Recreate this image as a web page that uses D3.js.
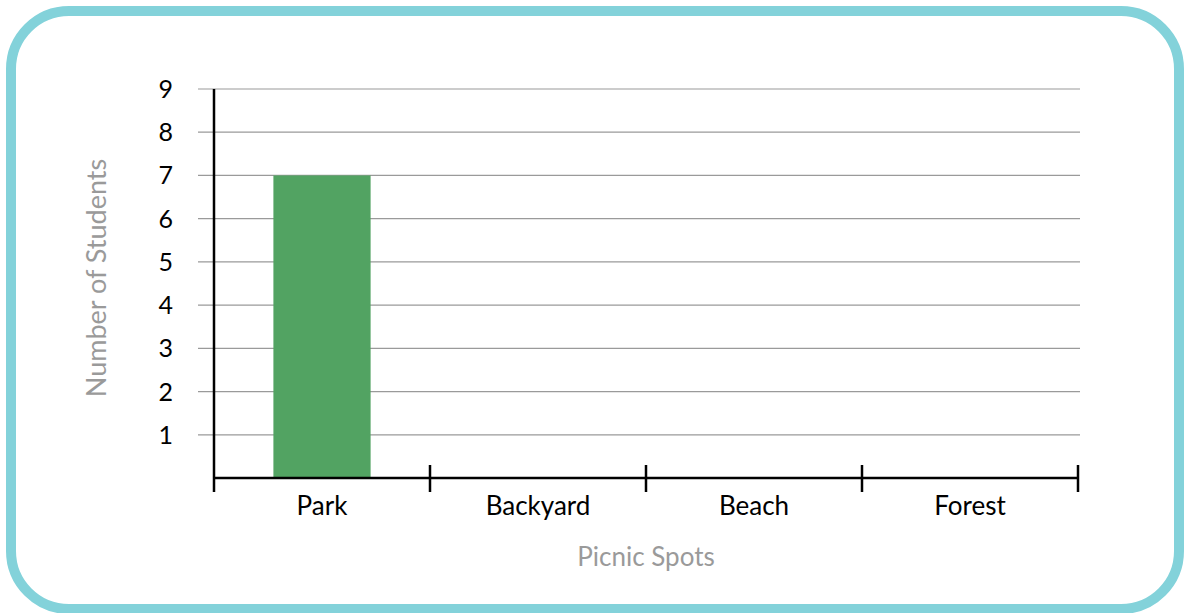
<!DOCTYPE html>
<html><head><meta charset="utf-8">
<script src="https://cdn.jsdelivr.net/npm/d3@7"></script>
<style>html,body{margin:0;padding:0;background:#fff;}svg{display:block;}</style>
</head><body>
<script>
const categories = ["Park", "Backyard", "Beach", "Forest"];
const values = [7, 0, 0, 0];
const yTicks = [1, 2, 3, 4, 5, 6, 7, 8, 9];
const xTitle = "Picnic Spots";
const yTitle = "Number of Students";

const W = 1184, H = 613;
const svg = d3.select("body").append("svg").attr("width", W).attr("height", H);
const font = "'Lato', 'Open Sans', sans-serif";

svg.append("rect").attr("x", 11).attr("y", 11).attr("width", 1168).attr("height", 598)
  .attr("rx", 58).attr("ry", 58).attr("fill", "#fff").attr("stroke", "#83d2da").attr("stroke-width", 10);

const x0 = 214, x1 = 1078, yTop = 89, yBase = 478;
const x = d3.scaleBand().domain(categories).range([x0, x1]).paddingInner(0.55).paddingOuter(0.275);
const xb = d3.scaleBand().domain(categories).range([x0, x1]);
const y = d3.scaleLinear().domain([0, 9]).range([yBase, yTop]);

// gridlines
svg.append("g").selectAll("line").data(yTicks).join("line")
  .attr("x1", 198).attr("x2", 1080).attr("y1", d => y(d)).attr("y2", d => y(d))
  .attr("stroke", "#9a9a9a").attr("stroke-width", 1.2);

// y tick labels
svg.append("g").selectAll("text").data(yTicks).join("text")
  .attr("x", 173).attr("y", d => y(d)).attr("dy", "0.36em").attr("text-anchor", "end")
  .attr("font-family", font).attr("font-size", 25).attr("fill", "#000").text(d => d);

// bars
svg.append("g").selectAll("rect").data(categories).join("rect")
  .attr("x", d => x(d)).attr("width", x.bandwidth())
  .attr("y", (d, i) => y(values[i])).attr("height", (d, i) => yBase - y(values[i]))
  .attr("fill", "#52a362");

// y axis line
svg.append("line").attr("x1", x0).attr("x2", x0).attr("y1", yTop).attr("y2", 492)
  .attr("stroke", "#000").attr("stroke-width", 2.5);
// x axis line
svg.append("line").attr("x1", x0).attr("x2", x1).attr("y1", yBase).attr("y2", yBase)
  .attr("stroke", "#000").attr("stroke-width", 2.5);
// x ticks at band boundaries
const bounds = categories.map(c => xb(c)).concat([x1]);
svg.append("g").selectAll("line").data(bounds.slice(1)).join("line")
  .attr("x1", d => d).attr("x2", d => d).attr("y1", 465).attr("y2", 492)
  .attr("stroke", "#000").attr("stroke-width", 2.5);

// x labels
svg.append("g").selectAll("text").data(categories).join("text")
  .attr("x", d => xb(d) + xb.bandwidth() / 2).attr("y", 515).attr("text-anchor", "middle")
  .attr("font-family", font).attr("font-size", 26).attr("fill", "#000").text(d => d);

// titles
svg.append("text").attr("x", 646).attr("y", 566).attr("text-anchor", "middle")
  .attr("font-family", font).attr("font-size", 26).attr("fill", "#9a9a9a").text(xTitle);
svg.append("text").attr("transform", "translate(106,278) rotate(-90)").attr("text-anchor", "middle")
  .attr("font-family", font).attr("font-size", 27).attr("fill", "#9a9a9a").text(yTitle);
</script>
</body></html>
